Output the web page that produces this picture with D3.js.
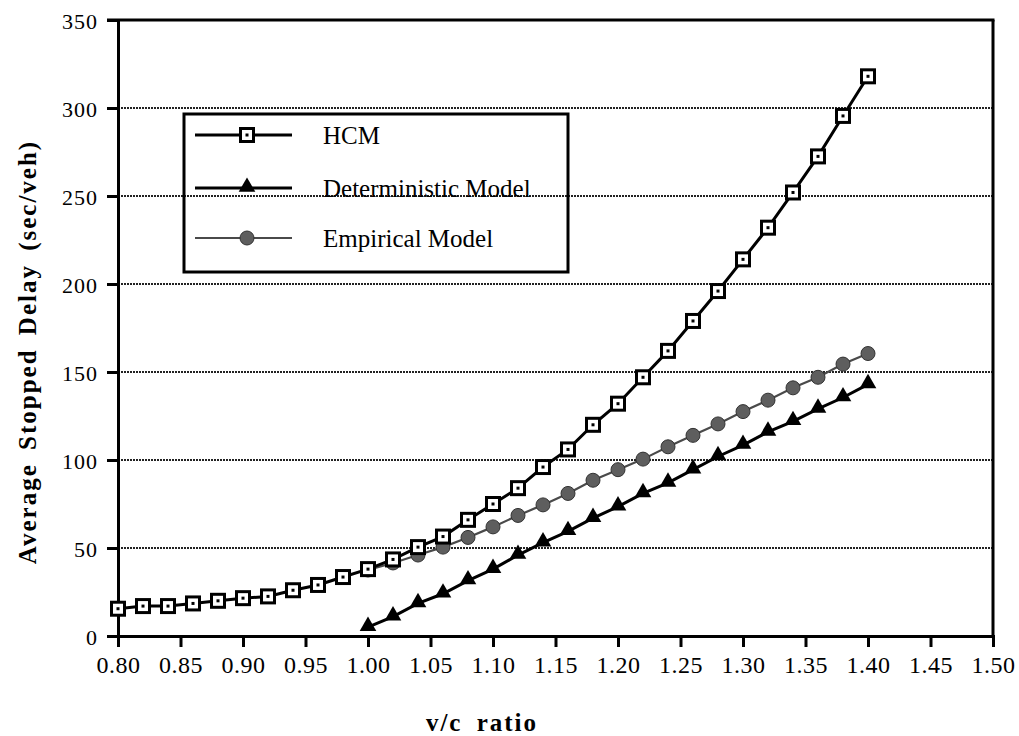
<!DOCTYPE html>
<html>
<head>
<meta charset="utf-8">
<script src="https://cdn.jsdelivr.net/npm/d3@7"></script>
<style>
  body { margin: 0; background: #fff; }
  svg { display: block; }
  svg text { font-family: "Liberation Serif", "Times New Roman", Times, Tinos, "DejaVu Serif", serif !important; fill: #000; }
</style>
</head>
<body>
<svg id="chart" width="1019" height="736"></svg>
<script>
// ---- data ----
const xTicks = [0.80, 0.85, 0.90, 0.95, 1.00, 1.05, 1.10, 1.15, 1.20, 1.25, 1.30, 1.35, 1.40, 1.45, 1.50];
const yTicks = [0, 50, 100, 150, 200, 250, 300, 350];
const gridValues = [50, 100, 150, 200, 250, 300];

const hcmX = [0.80, 0.82, 0.84, 0.86, 0.88, 0.90, 0.92, 0.94, 0.96, 0.98,
              1.00, 1.02, 1.04, 1.06, 1.08, 1.10, 1.12, 1.14, 1.16, 1.18,
              1.20, 1.22, 1.24, 1.26, 1.28, 1.30, 1.32, 1.34, 1.36, 1.38, 1.40];
const hcmY = [15.5, 17, 17, 18.5, 20, 21.5, 22.5, 26, 29, 33.5,
              38, 43.5, 50.5, 56.5, 66, 75, 84, 96, 106, 120,
              132, 147, 162, 179, 196, 214, 232, 252, 272.5, 295.5, 318];

const modelX = [1.00, 1.02, 1.04, 1.06, 1.08, 1.10, 1.12, 1.14, 1.16, 1.18,
                1.20, 1.22, 1.24, 1.26, 1.28, 1.30, 1.32, 1.34, 1.36, 1.38, 1.40];
const detY = [5, 11, 18.5, 24, 31.5, 38, 46, 53, 59.5, 67,
              73.5, 81, 87, 94.5, 102, 108.5, 116, 122, 129, 135.5, 143];
const empY = [37.5, 41.5, 46, 50.5, 56, 62, 68.5, 74.5, 81, 88.5,
              94.5, 100.5, 107.5, 114, 120.5, 127.5, 134, 141, 147, 154.5, 160.5];

const seriesNames = ["HCM", "Deterministic Model", "Empirical Model"];

// ---- layout ----
const FONT = "'Liberation Serif', 'Times New Roman', Times, Tinos, 'DejaVu Serif', serif";
const svg = d3.select("#chart");
const x = d3.scaleLinear().domain([0.8, 1.5]).range([118, 993]);
const y = d3.scaleLinear().domain([0, 350]).range([636, 20]);

// gridlines
svg.append("g").selectAll("line").data(gridValues).join("line")
  .attr("x1", x(0.8)).attr("x2", x(1.5))
  .attr("y1", d => y(d)).attr("y2", d => y(d))
  .attr("stroke", "#222").attr("stroke-width", 2.2).attr("stroke-dasharray", "2,1");

// frame: top and right
svg.append("line").attr("x1", x(0.8) - 11).attr("x2", x(1.5) + 1.5)
  .attr("y1", y(350)).attr("y2", y(350)).attr("stroke", "#000").attr("stroke-width", 3);
svg.append("line").attr("x1", x(1.5)).attr("x2", x(1.5))
  .attr("y1", y(350)).attr("y2", y(0)).attr("stroke", "#000").attr("stroke-width", 3);

// y axis
const yAxis = d3.axisLeft(y).tickValues(yTicks).tickSize(11).tickPadding(9)
  .tickFormat(d3.format("d"));
const gy = svg.append("g").attr("transform", `translate(${x(0.8)},0)`).call(yAxis)
  .attr("font-family", FONT);
gy.select(".domain").attr("stroke", "#000").attr("stroke-width", 3);
gy.selectAll(".tick line").attr("stroke", "#000").attr("stroke-width", 3);
gy.selectAll(".tick text").style("font-family", FONT)
  .style("font-size", "22px").style("letter-spacing", "1px").attr("fill", "#000").attr("dy", "0.38em");

// x axis
const xAxis = d3.axisBottom(x).tickValues(xTicks).tickSize(11).tickPadding(9)
  .tickFormat(d3.format(".2f"));
const gx = svg.append("g").attr("transform", `translate(0,${y(0)})`).call(xAxis)
  .attr("font-family", FONT);
gx.select(".domain").attr("stroke", "#000").attr("stroke-width", 3);
gx.selectAll(".tick line").attr("stroke", "#000").attr("stroke-width", 3);
gx.selectAll(".tick text").style("font-family", FONT)
  .style("font-size", "24px").style("letter-spacing", "0.5px").attr("fill", "#000");

// axis titles
svg.append("text").attr("x", 482).attr("y", 731).attr("text-anchor", "middle")
  .style("font-family", FONT)
  .style("font-size", "25px").style("font-weight", "bold").style("letter-spacing", "2px")
  .style("word-spacing", "6px").text("v/c ratio");
svg.append("text").attr("transform", "translate(36,352) rotate(-90)").attr("text-anchor", "middle")
  .style("font-family", FONT)
  .style("font-size", "25px").style("font-weight", "bold").style("letter-spacing", "2px")
  .style("word-spacing", "5px").text("Average Stopped Delay (sec/veh)");

// lines
const lineGen = d3.line().x(d => x(d[0])).y(d => y(d[1]));
const hcmData = hcmX.map((v, i) => [v, hcmY[i]]);
const detData = modelX.map((v, i) => [v, detY[i]]);
const empData = modelX.map((v, i) => [v, empY[i]]);

svg.append("path").datum(empData).attr("d", lineGen).attr("fill", "none")
  .attr("stroke", "#4a4a4a").attr("stroke-width", 2.2);
svg.append("path").datum(detData).attr("d", lineGen).attr("fill", "none")
  .attr("stroke", "#000").attr("stroke-width", 3);
svg.append("path").datum(hcmData).attr("d", lineGen).attr("fill", "none")
  .attr("stroke", "#000").attr("stroke-width", 3);

// marker helpers
function square(g, cx, cy) {
  g.append("rect").attr("x", cx - 6.5).attr("y", cy - 6.5).attr("width", 13).attr("height", 13)
    .attr("fill", "#fff").attr("stroke", "#000").attr("stroke-width", 3);
  g.append("rect").attr("x", cx - 1.5).attr("y", cy - 1.5).attr("width", 3).attr("height", 3).attr("fill", "#000");
}
const triPath = d3.symbol().type(d3.symbolTriangle).size(120);
function tri(g, cx, cy) {
  g.append("path").attr("d", triPath()).attr("transform", `translate(${cx},${cy - 1})`).attr("fill", "#000");
}
function circ(g, cx, cy) {
  g.append("circle").attr("cx", cx).attr("cy", cy).attr("r", 7)
    .attr("fill", "#5e5e5e").attr("stroke", "#333").attr("stroke-width", 1);
}

const mEmp = svg.append("g");
empData.forEach(d => circ(mEmp, x(d[0]), y(d[1])));
const mDet = svg.append("g");
detData.forEach(d => tri(mDet, x(d[0]), y(d[1])));
const mHcm = svg.append("g");
hcmData.forEach(d => square(mHcm, x(d[0]), y(d[1])));

// legend
const leg = svg.append("g");
leg.append("rect").attr("x", 184).attr("y", 114).attr("width", 384).attr("height", 158)
  .attr("fill", "none").attr("stroke", "#000").attr("stroke-width", 3);
const rowsY = [135, 188, 238];
const rowStroke = [["#000", 3], ["#000", 3], ["#4a4a4a", 2.2]];
const markFns = [square, tri, circ];
seriesNames.forEach((name, i) => {
  leg.append("line").attr("x1", 195).attr("x2", 292).attr("y1", rowsY[i]).attr("y2", rowsY[i])
    .attr("stroke", rowStroke[i][0]).attr("stroke-width", rowStroke[i][1]);
  markFns[i](leg, 247, rowsY[i]);
  leg.append("text").attr("x", 323).attr("y", rowsY[i] + 9)
    .style("font-family", FONT)
    .style("font-size", "25px").text(name);
});
</script>
</body>
</html>
